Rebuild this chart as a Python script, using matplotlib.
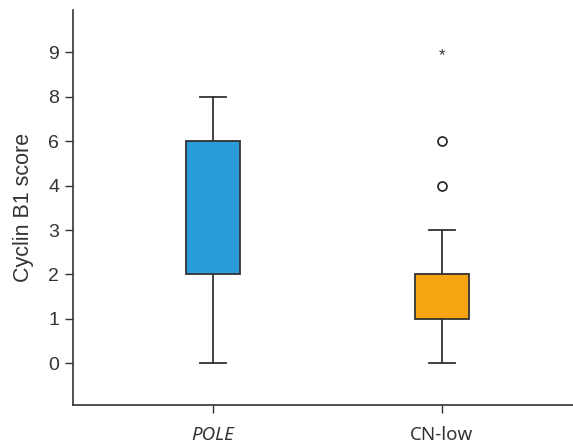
import matplotlib
matplotlib.use("Agg")
import matplotlib.pyplot as plt

# Data (ordinal y-axis: tick labels equally spaced)
score_levels = [0, 1, 2, 3, 4, 6, 8, 9]
groups = ["POLE", "CN-low"]
whisker_low = [0, 0]
q1 = [2, 1]
median = [2, 1]
q3 = [6, 2]
whisker_high = [8, 3]
outliers = [[], [4, 6]]
extremes = [[], [9]]
colors = ["#2B9CDA", "#F5A511"]

pos = {v: i for i, v in enumerate(score_levels)}

fig = plt.figure(figsize=(5.73, 4.44), dpi=100)
ax = fig.add_axes([0.1274, 0.0878, 0.8726, 0.8892])

stats = []
for i, g in enumerate(groups):
    stats.append(dict(label=g, whislo=pos[whisker_low[i]], q1=pos[q1[i]],
                      med=pos[median[i]], q3=pos[q3[i]], whishi=pos[whisker_high[i]],
                      fliers=[]))
xpos = [1, 2]
bp = ax.bxp(stats, positions=xpos, widths=0.235, patch_artist=True, showfliers=False,
            boxprops=dict(edgecolor="#333333", linewidth=1.3),
            whiskerprops=dict(color="#333333", linewidth=1.3),
            capprops=dict(color="#333333", linewidth=1.3),
            medianprops=dict(color="#333333", linewidth=0),
            capwidths=0.115)
for patch, c in zip(bp["boxes"], colors):
    patch.set_facecolor(c)

for i, x in enumerate(xpos):
    ys = [pos[v] for v in outliers[i]]
    ax.plot([x] * len(ys), ys, linestyle="none", marker="o", markersize=6.5,
            markerfacecolor="white", markeredgecolor="#222222", markeredgewidth=1.2)
    for v in extremes[i]:
        ax.text(x, pos[v] - 0.07, "*", ha="center", va="center", fontsize=12,
                color="#333333", family="Liberation Sans")

ax.set_ylim(-0.94, 7.95)
ax.set_xlim(0.389, 2.572)
ax.set_yticks(range(len(score_levels)))
ax.set_yticklabels([str(v) for v in score_levels], fontsize=14, family="Liberation Sans")
ax.set_xticks(xpos)
labs = ax.set_xticklabels(groups, fontsize=13.5, family="Noto Sans")
labs[0].set_fontstyle("italic")
ax.set_ylabel("Cyclin B1 score", fontsize=15.5, family="Liberation Sans", labelpad=10,
              color="#333333")

for s in ["top", "right"]:
    ax.spines[s].set_visible(False)
for s in ["left", "bottom"]:
    ax.spines[s].set_color("#333333")
    ax.spines[s].set_linewidth(1.2)
ax.tick_params(axis="both", colors="#333333", length=6, width=1.0, labelcolor="#333333")
ax.tick_params(axis="y", pad=4)
ax.tick_params(axis="x", pad=9)

fig.savefig("out.png", dpi=100)
